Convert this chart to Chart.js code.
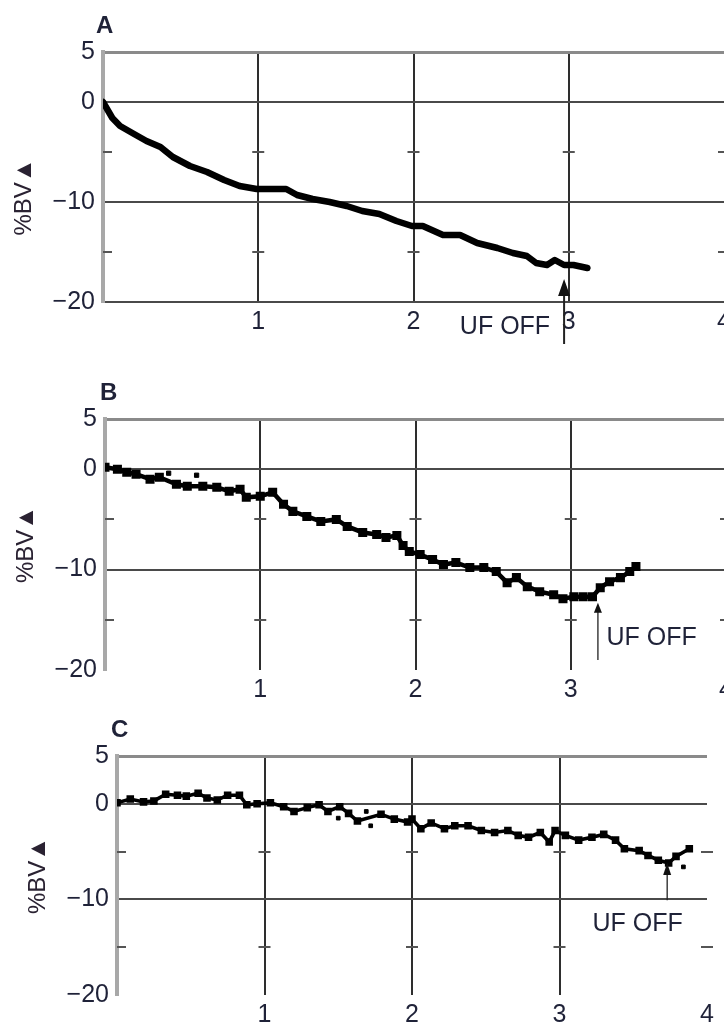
<!DOCTYPE html>
<html>
<head>
<meta charset="utf-8">
<script src="https://cdn.jsdelivr.net/npm/chart.js@4.4.0/dist/chart.umd.min.js"></script>
<style>
    html, body { margin: 0; padding: 0; background: #fff; overflow: hidden; }
    body { width: 724px; height: 1025px; position: relative; }
    .panel { position: absolute; left: 0; }
</style>
</head>
<body>
<div class="panel" style="top:0"><canvas id="chartA" width="740" height="345"></canvas></div>
<div class="panel" style="top:345px"><canvas id="chartB" width="740" height="355"></canvas></div>
<div class="panel" style="top:700px"><canvas id="chartC" width="740" height="325"></canvas></div>
<script>
        // Axis ticks and labels (shared by the three panels)
        const xTicks = [0, 1, 2, 3, 4];
        const xLabels = ['', '1', '2', '3', '4'];
        const yTicks = [-20, -15, -10, -5, 0, 5];
        const yLabels = ['\u221220', '', '\u221210', '', '0', '5'];
        const yMinor = [-15, -5];

        // Panel A: time (h) vs blood volume change (%)
        const timeA = [0, 0.03, 0.06, 0.11, 0.2, 0.28, 0.37, 0.45, 0.56, 0.67, 0.78, 0.88, 0.99, 1.1, 1.18, 1.25, 1.35, 1.46, 1.57, 1.67,
            1.78, 1.89, 1.99, 2.06, 2.19, 2.3, 2.41, 2.54, 2.64, 2.73, 2.79, 2.86, 2.91, 2.97, 3.03, 3.12];
        const bvA = [0, -0.8, -1.6, -2.4, -3.2, -3.9, -4.5, -5.5, -6.4, -7.0, -7.8, -8.4, -8.7, -8.7, -8.7, -9.3, -9.7, -10.0, -10.4, -10.9,
            -11.2, -11.9, -12.4, -12.4, -13.3, -13.3, -14.1, -14.6, -15.1, -15.4, -16.1, -16.3, -15.8, -16.3, -16.3, -16.6];

        // Panel B
        const timeB = [0, 0.08, 0.14, 0.2, 0.29, 0.35, 0.46, 0.53, 0.63, 0.72, 0.8, 0.87, 0.91, 1.0, 1.08, 1.15, 1.21, 1.3, 1.39, 1.49,
            1.56, 1.66, 1.75, 1.81, 1.88, 1.92, 1.96, 2.03, 2.11, 2.18, 2.26, 2.35, 2.44, 2.52, 2.59, 2.65, 2.72, 2.8, 2.89, 2.95,
            3.02, 3.08, 3.14, 3.19, 3.25, 3.32, 3.38, 3.42];
        const bvB = [0.2, 0, -0.3, -0.5, -1.0, -0.8, -1.5, -1.7, -1.7, -1.8, -2.2, -2.0, -2.8, -2.7, -2.3, -3.5, -4.2, -4.7, -5.2, -5.0,
            -5.7, -6.3, -6.5, -6.8, -6.6, -7.6, -8.2, -8.5, -9.0, -9.5, -9.3, -9.8, -9.8, -10.2, -11.3, -10.8, -11.7, -12.2, -12.5, -12.9,
            -12.7, -12.7, -12.7, -11.8, -11.2, -10.8, -10.2, -9.7];
        const strayTimeB = [0.41, 0.59];
        const strayBvB = [-0.4, -0.6];

        // Panel C
        const timeC = [0, 0.09, 0.18, 0.25, 0.33, 0.41, 0.47, 0.55, 0.61, 0.68, 0.75, 0.83, 0.88, 0.95, 1.04, 1.13, 1.2, 1.29, 1.37, 1.43,
            1.51, 1.57, 1.63, 1.79, 1.88, 1.97, 2.0, 2.06, 2.13, 2.22, 2.29, 2.38, 2.47, 2.56, 2.65, 2.72, 2.79, 2.87, 2.93, 2.97,
            3.04, 3.13, 3.22, 3.3, 3.38, 3.44, 3.54, 3.6, 3.67, 3.74, 3.79, 3.88];
        const bvC = [0.1, 0.5, 0.2, 0.3, 1.0, 0.9, 0.8, 1.1, 0.6, 0.4, 0.9, 0.9, -0.1, 0, 0.1, -0.3, -0.8, -0.4, -0.1, -0.8,
            -0.3, -1.0, -1.8, -1.1, -1.6, -1.9, -1.6, -2.6, -2.0, -2.6, -2.3, -2.3, -2.8, -3.0, -2.8, -3.3, -3.5, -3.0, -4.0, -2.8,
            -3.3, -3.8, -3.5, -3.2, -3.8, -4.7, -4.9, -5.4, -5.9, -6.2, -5.5, -4.7];
        const strayTimeC = [1.5, 1.69, 1.72, 3.84];
        const strayBvC = [-1.5, -0.8, -2.3, -6.6];

        // UF OFF markers: time, arrow tip, arrow tail (in %BV units)
        const ufTime = [2.97, 3.175, 3.73];
        const ufTip = [-17.7, -13.3, -6.2];
        const ufTail = [-24.2, -19.0, -10.1];

        const FONT = '"Liberation Sans", Arial, Helvetica, sans-serif';
        const TEXT = '#1f2238';
        Chart.defaults.font.family = FONT;
        Chart.defaults.font.size = 25;
        Chart.defaults.color = TEXT;

        function pts(xs, ys) {
            return xs.map((x, i) => ({ x: x, y: ys[i] }));
        }

        // small cross marks at -5 and -15 on each vertical line
        const minorTickPlugin = {
            id: 'minorTicks',
            beforeDatasetsDraw(chart) {
                const { ctx, scales: { x, y } } = chart;
                ctx.save();
                ctx.strokeStyle = '#555';
                ctx.lineWidth = 2;
                yMinor.forEach(v => {
                    const py = Math.round(y.getPixelForValue(v));
                    xTicks.forEach(t => {
                        const px = x.getPixelForValue(t);
                        ctx.beginPath();
                        if (t === 0) {
                            ctx.moveTo(px, py);
                            ctx.lineTo(px + 9, py);
                        } else {
                            ctx.moveTo(px - 6, py);
                            ctx.lineTo(px + 6, py);
                        }
                        ctx.stroke();
                    });
                });
                ctx.restore();
            }
        };

        // panel letter above the plot and the rotated y title
        const letterPlugin = {
            id: 'panelLetter',
            afterDraw(chart, args, opts) {
                const { ctx, chartArea } = chart;
                ctx.save();
                ctx.font = 'bold 24px ' + FONT;
                ctx.fillStyle = TEXT;
                ctx.textAlign = 'left';
                ctx.textBaseline = 'alphabetic';
                ctx.fillText(opts.text, chartArea.left - 6 + (opts.dx || 0), chartArea.top - 19);

                ctx.translate(chartArea.left - 79, (chartArea.top + chartArea.bottom) / 2 + (opts.titleDy || 0));
                ctx.rotate(-Math.PI / 2);
                ctx.font = '24px ' + FONT;
                ctx.fillStyle = '#2a2232';
                ctx.textAlign = 'center';
                ctx.textBaseline = 'middle';
                ctx.fillText('%BV\u25B2', 0, 0);
                ctx.restore();
            }
        };

        // "UF OFF" arrow and label
        const ufOffPlugin = {
            id: 'ufOff',
            afterDatasetsDraw(chart, args, o) {
                const { ctx, scales: { x, y } } = chart;
                const px = x.getPixelForValue(o.time);
                const tipY = y.getPixelForValue(o.tip);
                const tailY = y.getPixelForValue(o.tail);
                ctx.save();
                ctx.strokeStyle = '#222';
                ctx.fillStyle = '#111';
                ctx.lineWidth = o.line;
                ctx.beginPath();
                ctx.moveTo(px, tailY);
                ctx.lineTo(px, tipY + o.headH - 1);
                ctx.stroke();
                ctx.beginPath();
                ctx.moveTo(px, tipY);
                ctx.lineTo(px - o.headW / 2, tipY + o.headH);
                ctx.lineTo(px + o.headW / 2, tipY + o.headH);
                ctx.closePath();
                ctx.fill();
                ctx.font = '25px ' + FONT;
                ctx.fillStyle = TEXT;
                ctx.textAlign = o.align;
                ctx.textBaseline = 'middle';
                ctx.fillText('UF OFF', x.getPixelForValue(o.labelTime), y.getPixelForValue(o.labelBv));
                ctx.restore();
            }
        };

        function makePanel(canvasId, p) {
            const ctx = document.getElementById(canvasId).getContext('2d');
            return new Chart(ctx, {
                type: 'scatter',
                data: { datasets: p.datasets },
                options: {
                    responsive: false,
                    animation: false,
                    layout: { padding: p.padding },
                    scales: {
                        x: {
                            type: 'linear',
                            min: 0,
                            max: 4,
                            afterBuildTicks: s => { s.ticks = xTicks.map(v => ({ value: v })); },
                            afterFit: s => { s.height = p.xHeight; s.paddingLeft = 0; s.paddingRight = 0; },
                            border: { display: false },
                            grid: {
                                drawTicks: false,
                                lineWidth: 2,
                                color: c => (c.tick && c.tick.value > 0 && c.tick.value < 4) ? '#2e2e2e' : 'rgba(0,0,0,0)'
                            },
                            ticks: {
                                padding: 5,
                                maxRotation: 0,
                                autoSkip: false,
                                callback: (v, i) => xLabels[i]
                            }
                        },
                        y: {
                            type: 'linear',
                            min: -20,
                            max: 5,
                            afterBuildTicks: s => { s.ticks = yTicks.map(v => ({ value: v })); },
                            afterFit: s => { s.width = p.yWidth; s.paddingTop = 0; s.paddingBottom = 0; },
                            border: { display: true, color: '#a8a8a8', width: 4 },
                            grid: {
                                drawTicks: false,
                                lineWidth: c => (c.tick && c.tick.value === 5) ? 3 : 2,
                                color: c => {
                                    const v = c.tick ? c.tick.value : null;
                                    if (v === 5) return '#8a8a8a';
                                    if (v === 0 || v === -10) return '#4a4a4a';
                                    if (v === -20 && p.bottomLine) return '#4a4a4a';
                                    return 'rgba(0,0,0,0)';
                                }
                            },
                            ticks: {
                                padding: 8,
                                autoSkip: false,
                                callback: (v, i) => yLabels[i]
                            }
                        }
                    },
                    plugins: {
                        legend: { display: false },
                        tooltip: { enabled: false },
                        panelLetter: { text: p.letter, dx: p.letterDx, titleDy: p.titleDy },
                        ufOff: p.uf
                    }
                },
                plugins: [minorTickPlugin, letterPlugin, ufOffPlugin]
            });
        }

        document.addEventListener('DOMContentLoaded', function () {
            makePanel('chartA', {
                letter: 'A',
                letterDx: -1,
                titleDy: 20,
                padding: { top: 52, left: 0, right: 16, bottom: 7 },
                xHeight: 36,
                yWidth: 103,
                bottomLine: true,
                datasets: [{
                    data: pts(timeA, bvA),
                    showLine: true,
                    borderColor: '#000',
                    backgroundColor: '#000',
                    borderWidth: 6.5,
                    borderJoinStyle: 'round',
                    borderCapStyle: 'round',
                    pointRadius: 0
                }],
                uf: {
                    time: ufTime[0], tip: ufTip[0], tail: ufTail[0],
                    line: 2, headW: 12, headH: 17,
                    labelTime: 2.88, labelBv: -22.5, align: 'right'
                }
            });

            makePanel('chartB', {
                letter: 'B',
                letterDx: 1,
                titleDy: 0,
                padding: { top: 74, left: 0, right: 14, bottom: 0 },
                xHeight: 30,
                yWidth: 105,
                bottomLine: false,
                datasets: [{
                    data: pts(timeB, bvB),
                    showLine: true,
                    borderColor: '#000',
                    backgroundColor: '#000',
                    borderWidth: 4.5,
                    pointStyle: 'rect',
                    pointRadius: 3.2
                }, {
                    data: pts(strayTimeB, strayBvB),
                    backgroundColor: '#000',
                    borderColor: '#000',
                    pointStyle: 'rect',
                    pointRadius: 3
                }],
                uf: {
                    time: ufTime[1], tip: ufTip[1], tail: ufTail[1],
                    line: 1.3, headW: 8, headH: 10,
                    labelTime: 3.23, labelBv: -16.8, align: 'left'
                }
            });

            makePanel('chartC', {
                letter: 'C',
                letterDx: 0,
                titleDy: 0,
                padding: { top: 56, left: 0, right: 33, bottom: 0 },
                xHeight: 30,
                yWidth: 117,
                bottomLine: false,
                datasets: [{
                    data: pts(timeC, bvC),
                    showLine: true,
                    borderColor: '#000',
                    backgroundColor: '#000',
                    borderWidth: 3.6,
                    pointStyle: 'rect',
                    pointRadius: 2.8
                }, {
                    data: pts(strayTimeC, strayBvC),
                    backgroundColor: '#000',
                    borderColor: '#000',
                    pointStyle: 'rect',
                    pointRadius: 2.6
                }],
                uf: {
                    time: ufTime[2], tip: ufTip[2], tail: ufTail[2],
                    line: 1.3, headW: 8, headH: 12,
                    labelTime: 3.53, labelBv: -12.55, align: 'center'
                }
            });
        });
</script>
</body>
</html>
